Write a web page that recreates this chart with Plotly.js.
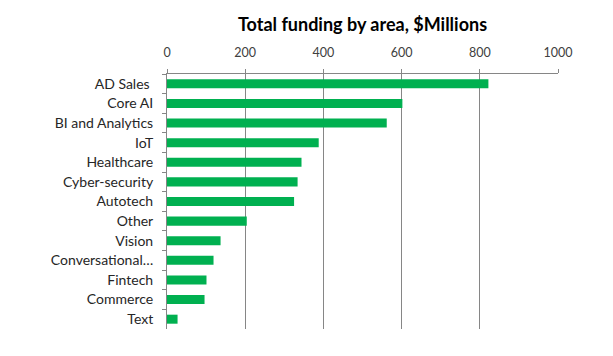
<!DOCTYPE html>
<html>
<head>
<meta charset="utf-8">
<script src="https://cdn.plot.ly/plotly-3.0.1.min.js"></script>
<style>html,body{margin:0;padding:0;background:#fff;}#chart{width:613px;height:356px;}</style>
</head>
<body>
<div id="chart"></div>
<script>
const categories = ["AD Sales ", "Core AI", "BI and Analytics", "IoT", "Healthcare", "Cyber-security", "Autotech", "Other", "Vision", "Conversational…", "Fintech", "Commerce", "Text"];
const funding = [822, 602, 562, 388, 344, 334, 325, 204, 137, 119, 101, 96, 27];
const xTicks = [0, 200, 400, 600, 800, 1000];
const titleText = "Total funding by area, $Millions";

const data = [{
  type: 'bar',
  orientation: 'h',
  x: funding,
  y: categories,
  marker: {color: '#00B050'},
  hoverinfo: 'x+y'
}];

const layout = {
  width: 613, height: 356,
  margin: {l: 167, r: 55, t: 74, b: 27, pad: 0},
  paper_bgcolor: '#fff', plot_bgcolor: '#fff',
  showlegend: false,
  bargap: 0.54,
  font: {family: 'Lato, "Open Sans", sans-serif', color: '#404040', size: 13},
  title: {text: titleText, x: 0.5, xref: 'paper', y: 0.93, yref: 'container', yanchor: 'middle',
          font: {family: 'Lato, "Open Sans", sans-serif', size: 18, color: '#000', weight: 'bold'}},
  xaxis: {
    side: 'top', range: [0, 1000], tickvals: xTicks, ticktext: xTicks.map(String),
    showgrid: true, gridcolor: '#868686', gridwidth: 1,
    showline: true, linecolor: '#868686', linewidth: 1, mirror: false,
    ticks: 'outside', ticklen: 4, tickcolor: '#868686', ticklabelstandoff: 7,
    zeroline: false, tickfont: {size: 12.5, color: '#404040'}, fixedrange: true
  },
  yaxis: {
    autorange: 'reversed', type: 'category',
    showline: true, linecolor: '#868686', linewidth: 1,
    ticks: 'outside', ticklen: 4, tickcolor: '#868686', tickson: 'boundaries',
    showgrid: false, zeroline: false, ticklabelstandoff: 10,
    tickfont: {size: 14, color: '#262626'}, fixedrange: true
  }
};

Plotly.newPlot('chart', data, layout, {displayModeBar: false, staticPlot: true});
</script>
</body>
</html>
